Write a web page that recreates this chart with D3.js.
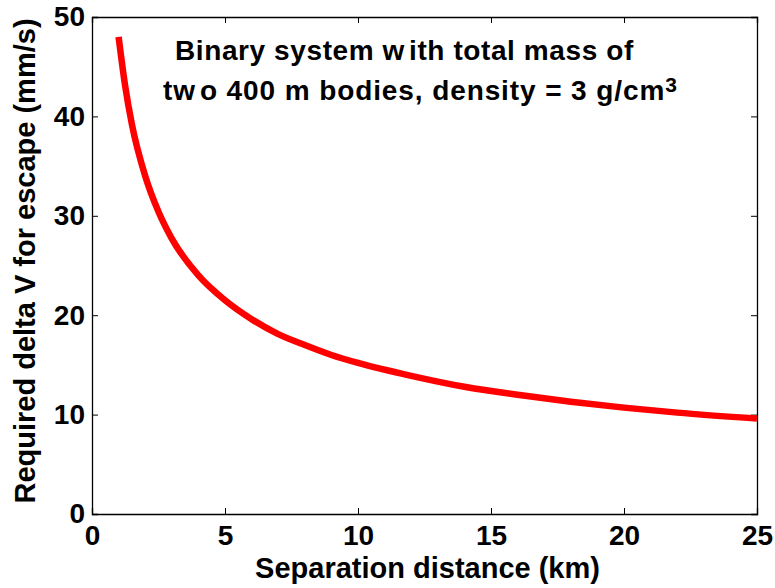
<!DOCTYPE html>
<html>
<head>
<meta charset="utf-8">
<script src="https://cdn.jsdelivr.net/npm/d3@7"></script>
<style>
  body { margin: 0; background: #fff; }
  text { font-family: "Liberation Sans", Arial, sans-serif; font-weight: bold; }
</style>
</head>
<body>
<div id="chart"></div>
<script>
// values
const separation = [1, 1.25, 1.5, 2, 2.5, 3, 4, 5, 6, 7, 8, 9, 10, 12, 14, 16, 18, 20, 22, 25];
const deltaV = [48, 43, 39.2, 34, 30.4, 27.7, 24, 21.5, 19.6, 18.1, 17, 16, 15.2, 13.9, 12.8, 12, 11.3, 10.7, 10.2, 9.6];
const xTicks = [0, 5, 10, 15, 20, 25];
const yTicks = [0, 10, 20, 30, 40, 50];

const W = 775, H = 588;
const margin = { top: 17, right: 18, bottom: 74, left: 92 };
const width = W - margin.left - margin.right;
const height = H - margin.top - margin.bottom;

const svg = d3.select("#chart")
  .append("svg")
    .attr("width", W)
    .attr("height", H);

const g = svg.append("g")
    .attr("transform", `translate(${margin.left},${margin.top})`);

const x = d3.scaleLinear().domain([0, 25]).range([0, width]);
const y = d3.scaleLinear().domain([0, 50]).range([height, 0]);

// axes, MATLAB style: ticks pointing inward on all four sides
const tick = 6;
g.append("g")
  .attr("transform", `translate(0,${height})`)
  .call(d3.axisBottom(x).tickValues(xTicks).tickSize(-tick).tickPadding(11).tickFormat(d3.format("d")))
  .call(a => a.selectAll("text").style("font-size", "28px").attr("fill", "#000"));
g.append("g")
  .call(d3.axisTop(x).tickValues(xTicks).tickSize(-tick).tickFormat(""));
g.append("g")
  .call(d3.axisLeft(y).tickValues(yTicks).tickSize(-tick).tickPadding(7).tickFormat(d3.format("d")))
  .call(a => a.selectAll("text").style("font-size", "28px").attr("fill", "#000"));
g.append("g")
  .attr("transform", `translate(${width},0)`)
  .call(d3.axisRight(y).tickValues(yTicks).tickSize(-tick).tickFormat(""));
g.selectAll(".domain").attr("stroke", "#000").attr("stroke-width", 1.3);
g.selectAll(".tick line").attr("stroke", "#000");

// the curve
g.append("path")
  .datum(separation.map((s, i) => [s, deltaV[i]]))
  .attr("d", d3.line()
    .x(d => x(d[0]))
    .y(d => y(d[1]))
    .curve(d3.curveMonotoneX))
  .attr("fill", "none")
  .attr("stroke", "#ff0000")
  .attr("stroke-width", 6.5);

// annotation
const t1 = svg.append("text")
  .attr("x", 175).attr("y", 60)
  .style("font-size", "28px")
  .style("letter-spacing", "0.6px")
  .text("Binary system w");
t1.append("tspan").attr("dx", 4).text("ith total mass of");
const t2 = svg.append("text")
  .attr("x", 163).attr("y", 100)
  .style("font-size", "28px")
  .style("letter-spacing", "0.9px")
  .text("tw");
t2.append("tspan").attr("dx", 4).text("o 400 m bodies, density = 3 g/cm");
t2.append("tspan")
  .attr("dy", -8)
  .style("font-size", "21px")
  .text("3");

// axis labels
svg.append("text")
  .attr("x", margin.left + width / 2 + 3)
  .attr("y", 578)
  .attr("text-anchor", "middle")
  .style("font-size", "29px")
  .text("Separation distance (km)");

svg.append("text")
  .attr("transform", "rotate(-90)")
  .attr("x", -261)
  .attr("y", 35)
  .attr("text-anchor", "middle")
  .style("font-size", "29px")
  .text("Required delta V for escape (mm/s)");
</script>
</body>
</html>
